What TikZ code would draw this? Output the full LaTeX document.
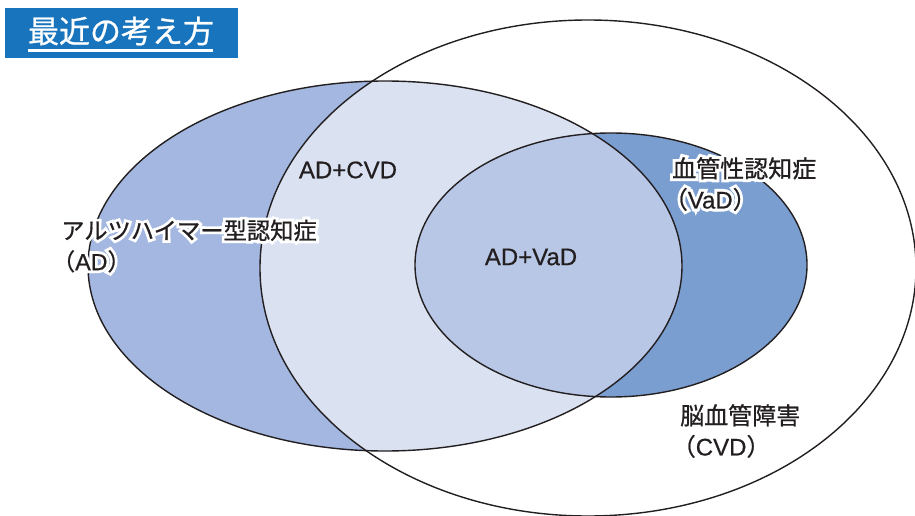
\documentclass[tikz,border=0pt]{standalone}
\usepackage{fontspec}
\setmainfont[FakeBold=0.6]{Liberation Sans}
\newfontfamily\jpfont[FakeBold=0.8]{Noto Sans CJK JP}
\newfontfamily\jphalo[FakeBold=25]{Noto Sans CJK JP}
\newfontfamily\lafont[FakeBold=0.6]{Liberation Sans}
\newfontfamily\lahalo[FakeBold=25]{Liberation Sans}
\newcommand{\J}{\jpfont}
\newcommand{\La}{\lafont}
\usetikzlibrary{calc}
\definecolor{adc}{HTML}{A3B7E0}
\definecolor{adcvd}{HTML}{DAE2F2}
\definecolor{advad}{HTML}{B8C7E6}
\definecolor{vadc}{HTML}{7B9ED1}
\definecolor{titleblue}{HTML}{1874BC}
\definecolor{txt}{HTML}{231F20}
\tikzset{
  venn/.style={draw=txt, line width=1.4pt},
  lbl/.style={font=\fontsize{24}{31}\selectfont, text=txt, inner sep=0pt, align=left},
  adsize/.style={font=\fontsize{23.3}{31}\selectfont},
  halo/.style={lbl, text=white, execute at begin node={\let\J\jphalo\let\La\lahalo}},
}
\begin{document}
\begin{tikzpicture}[x=1pt,y=-1pt]
\useasboundingbox (0,0) rectangle (915,516);
\clip (0,0) rectangle (915,516);
\coordinate (cvdc) at (588,268);
\coordinate (adcc) at (385,266);
\coordinate (vadcc) at (611,265);
% fills
\fill[adc] (adcc) ellipse [x radius=297pt, y radius=185pt];
\begin{scope}
  \clip (adcc) ellipse [x radius=297pt, y radius=185pt];
  \fill[adcvd] (cvdc) ellipse [x radius=328pt, y radius=248pt];
\end{scope}
\fill[vadc] (vadcc) ellipse [x radius=196pt, y radius=132pt];
\begin{scope}
  \clip (adcc) ellipse [x radius=297pt, y radius=185pt];
  \fill[advad] (vadcc) ellipse [x radius=196pt, y radius=132pt];
\end{scope}
% outlines
\draw[venn] (cvdc) ellipse [x radius=328pt, y radius=248pt];
\draw[venn] (adcc) ellipse [x radius=297pt, y radius=185pt];
\draw[venn] (vadcc) ellipse [x radius=196pt, y radius=132pt];
% title
\node[fill=titleblue, minimum width=233pt, minimum height=50pt, inner sep=0pt] (titlebox) at (121.5,33) {};
\node[font=\fontsize{31}{34}\selectfont, text=white, inner sep=0pt] (title) at (121,31) {\J 最近の考え方};
\draw[white, line width=2.2pt] ($(titlebox.west)+(23,17.5)$) -- ($(titlebox.east)+(-25,17.5)$);
% labels with white halo
\node[halo, adsize, anchor=west] (adhalo) at (61,246) {{\J アルツハイマー型認知症}\\\hspace*{-0.4em}{\J （}{\La AD}{\J ）}};
\node[lbl, adsize, anchor=west] (adlbl) at (61,246) {{\J アルツハイマー型認知症}\\\hspace*{-0.4em}{\J （}{\La AD}{\J ）}};
\node[halo, anchor=west] (vadhalo) at (672,184) {{\J 血管性認知症}\\\hspace*{-0.35em}{\J （}{\La VaD}{\J ）}};
\node[lbl, anchor=west] (vadlbl) at (672,184) {{\J 血管性認知症}\\\hspace*{-0.35em}{\J （}{\La VaD}{\J ）}};
\node[lbl, anchor=west] (cvdlbl) at (680,431) {{\J 脳血管障害}\\\hspace*{-0.35em}{\J （}{\La CVD}{\J ）}};
\node[lbl] (adcvdlbl) at (348,170) {\La AD+CVD};
\node[lbl] (advadlbl) at (531,257) {\La AD+VaD};
\end{tikzpicture}
\end{document}
